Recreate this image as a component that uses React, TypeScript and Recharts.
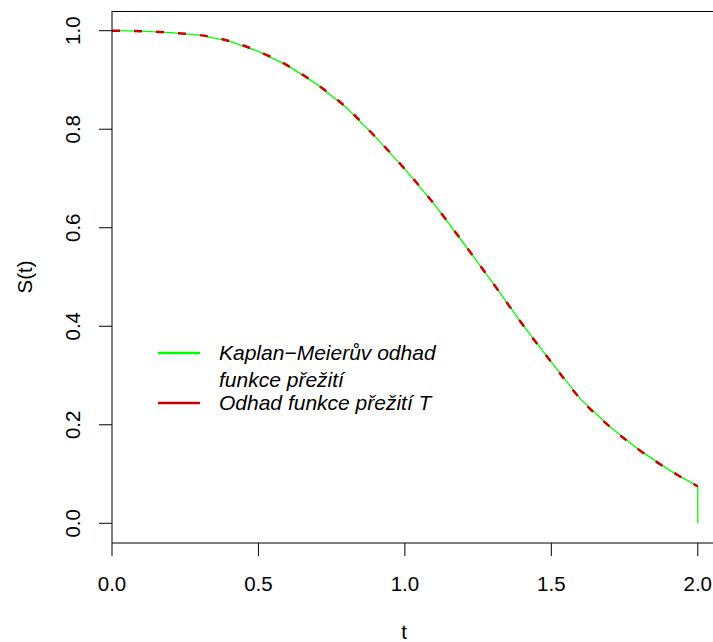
import React from "react";
import { LineChart, Line, XAxis, YAxis, ReferenceLine } from "recharts";

// čas a odhady přežití
const kmTimes = [0, 0.1, 0.2, 0.3, 0.4, 0.5, 0.6, 0.7, 0.8, 0.9, 1.0, 1.1, 1.2, 1.3, 1.4, 1.5, 1.6, 1.7, 1.8, 1.9, 2.0, 2.0];
const kmSurvival = [1.0, 0.999, 0.996, 0.991, 0.979, 0.958, 0.929, 0.891, 0.844, 0.784, 0.719, 0.648, 0.569, 0.488, 0.405, 0.327, 0.252, 0.196, 0.149, 0.109, 0.075, 0.0];

const estTimes = [0, 0.1, 0.2, 0.3, 0.4, 0.5, 0.6, 0.7, 0.8, 0.9, 1.0, 1.1, 1.2, 1.3, 1.4, 1.5, 1.6, 1.7, 1.8, 1.9, 2.0];
const estSurvival = [1.0, 0.999, 0.996, 0.991, 0.979, 0.958, 0.929, 0.891, 0.844, 0.784, 0.719, 0.648, 0.569, 0.488, 0.405, 0.327, 0.252, 0.196, 0.149, 0.109, 0.075];

const xTicks = [0, 0.5, 1, 1.5, 2];
const yTicks = [0, 0.2, 0.4, 0.6, 0.8, 1];

const legendLabels = ["Kaplan\u2212Meierův odhad", "funkce přežití", "Odhad funkce přežití T"];

const FONT = "'Liberation Sans', Arial, Helvetica, sans-serif";
const FS = 20.5;
const GREEN = "#00FF00";
const RED = "#CD0000";

const kmData = kmTimes.map((t, i) => ({ t, s: kmSurvival[i] }));
const estData = estTimes.map((t, i) => ({ t, s: estSurvival[i] }));

const XTick = (props: any) => {
  const { x, y, payload } = props;
  return (
    <text x={x} y={y + 33} textAnchor="middle" fontFamily={FONT} fontSize={FS} fill="#000">
      {Number(payload.value).toFixed(1)}
    </text>
  );
};

const YTick = (props: any) => {
  const { x, y, payload } = props;
  const cx = x - 20;
  return (
    <text
      x={cx}
      y={y}
      transform={`rotate(-90, ${cx}, ${y})`}
      textAnchor="middle"
      dy={7}
      fontFamily={FONT}
      fontSize={FS}
      fill="#000"
    >
      {Number(payload.value).toFixed(1)}
    </text>
  );
};

const LegendBox = () => {
  const textStyle: React.CSSProperties = {
    fontFamily: FONT,
    fontStyle: "italic",
    fontSize: 21,
    color: "#000",
    height: 27,
    lineHeight: "27px",
    whiteSpace: "nowrap",
  };
  const sample = (color: string, w: number) => (
    <svg width={42} height={27} style={{ position: "absolute", left: 0, top: 0 }}>
      <line x1={0} y1={14} x2={42} y2={14} stroke={color} strokeWidth={w} />
    </svg>
  );
  return (
    <div style={{ position: "absolute", left: 158, top: 339, width: 340 }}>
      <div style={{ position: "relative" }}>
        {sample(GREEN, 2.5)}
        <div style={{ ...textStyle, marginLeft: 61 }}>{legendLabels[0]}</div>
        <div style={{ ...textStyle, marginLeft: 61 }}>{legendLabels[1]}</div>
      </div>
      <div style={{ position: "relative", marginTop: -4 }}>
        {sample(RED, 2.5)}
        <div style={{ ...textStyle, marginLeft: 61 }}>{legendLabels[2]}</div>
      </div>
    </div>
  );
};

export default function App() {
  return (
    <div style={{ position: "absolute", left: 0, top: 0, width: 713, height: 642, background: "#fff" }}>
      <LineChart width={713} height={642} margin={{ top: 11, right: 0, bottom: 0, left: 0 }}>
        <XAxis
          dataKey="t"
          type="number"
          domain={[0, 2.052]}
          ticks={xTicks}
          allowDataOverflow
          height={99}
          tickSize={13}
          tick={<XTick />}
          stroke="#000"
          label={{
            content: (p: any) => {
              const vb = p.viewBox;
              return (
                <text x={vb.x + 292} y={vb.y + 96} textAnchor="middle" fontFamily={FONT} fontSize={FS} fill="#000">
                  t
                </text>
              );
            },
          }}
        />
        <YAxis
          type="number"
          domain={[-0.04, 1.04]}
          ticks={yTicks}
          allowDataOverflow
          width={112}
          tickSize={13}
          tickMargin={6}
          tick={<YTick />}
          stroke="#000"
          label={{
            content: (p: any) => {
              const vb = p.viewBox;
              const cx = vb.x + 25;
              const cy = vb.y + vb.height / 2;
              return (
                <text
                  x={cx}
                  y={cy}
                  transform={`rotate(-90, ${cx}, ${cy})`}
                  textAnchor="middle"
                  dy={7}
                  fontFamily={FONT}
                  fontSize={FS}
                  fill="#000"
                >
                  S(t)
                </text>
              );
            },
          }}
        />
        {/* horní okraj rámečku */}
        <ReferenceLine y={1.039} stroke="#000" strokeWidth={1.2} />
        <Line
          data={kmData}
          dataKey="s"
          type="linear"
          stroke={GREEN}
          strokeWidth={1.3}
          dot={false}
          activeDot={false}
          isAnimationActive={false}
        />
        <Line
          data={estData}
          dataKey="s"
          type="monotone"
          stroke={RED}
          strokeWidth={2.5}
          strokeDasharray="8 14"
          dot={false}
          activeDot={false}
          isAnimationActive={false}
        />
      </LineChart>
      <LegendBox />
    </div>
  );
}
